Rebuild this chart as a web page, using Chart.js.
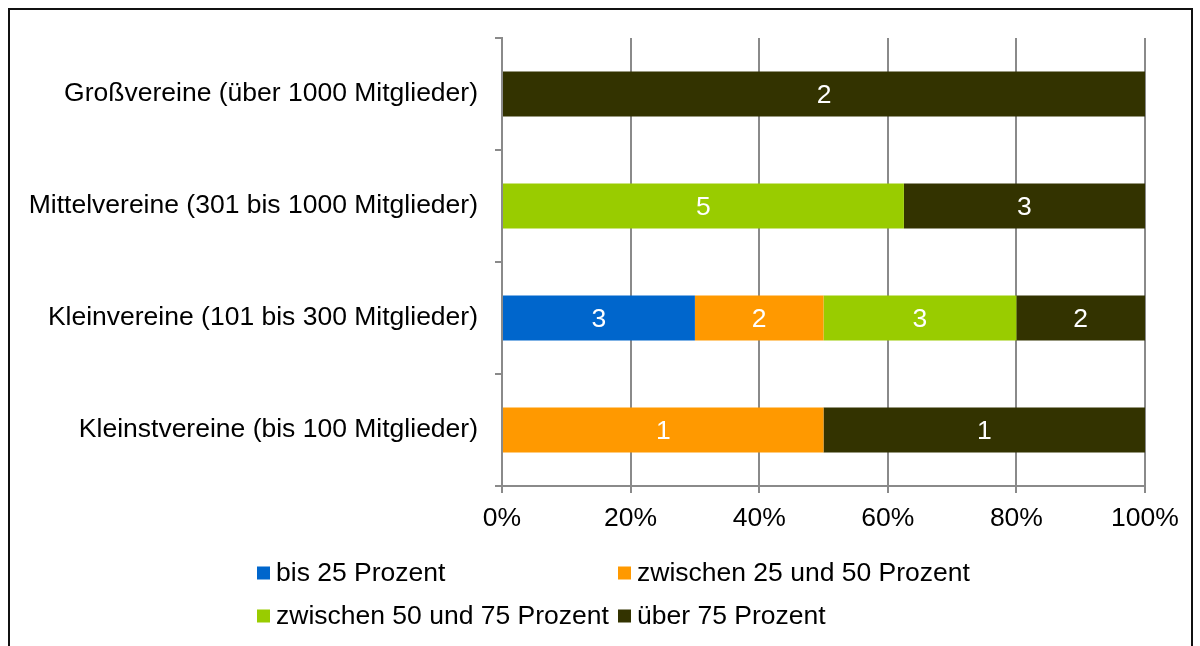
<!DOCTYPE html>
<html lang="de">

<head>
  <meta charset="UTF-8">
  <title>Vereine nach Anteil</title>
  <script src="https://cdn.jsdelivr.net/npm/chart.js"></script>
  <style>
    body {
      margin: 0;
      background: #fff;
      font-family: "Liberation Sans", Arial, sans-serif;
    }

    .wrap {
      position: relative;
      width: 1200px;
      height: 646px;
      overflow: hidden;
    }

    .frame {
      position: absolute;
      left: 8px;
      top: 8px;
      width: 1181px;
      height: 700px;
      border: 2px solid #111;
      pointer-events: none;
    }

    canvas {
      position: absolute;
      left: 0;
      top: 0;
    }
  </style>
</head>

<body>
  <div class="wrap">
    <canvas id="chart" width="1200" height="646"></canvas>
    <div class="frame"></div>
  </div>

  <script>
    const categories = [
      'Großvereine (über 1000 Mitglieder)',
      'Mittelvereine (301 bis 1000 Mitglieder)',
      'Kleinvereine (101 bis 300 Mitglieder)',
      'Kleinstvereine (bis 100 Mitglieder)'
    ];
    const seriesNames = [
      'bis 25 Prozent',
      'zwischen 25 und 50 Prozent',
      'zwischen 50 und 75 Prozent',
      'über 75 Prozent'
    ];
    // number of clubs per group and share class
    const bis25 = [0, 0, 3, 0];
    const zw25und50 = [0, 0, 2, 1];
    const zw50und75 = [0, 5, 3, 0];
    const ueber75 = [2, 3, 2, 1];
    const xTicks = [0, 20, 40, 60, 80, 100];

    const colors = ['#0066CC', '#FF9900', '#99CC00', '#333300'];
    const counts = [bis25, zw25und50, zw50und75, ueber75];
    const FONT = '"Liberation Sans", Arial, sans-serif';
    const FS = 26.5;
    const GRID = '#8a8a8a';

    // row totals, used to turn counts into 100% stacks
    const totals = categories.map((_, i) => counts.reduce((s, c) => s + c[i], 0));

    const datasets = seriesNames.map((name, k) => ({
      label: name,
      counts: counts[k],
      data: counts[k].map((v, i) => v / totals[i] * 100),
      backgroundColor: colors[k],
      borderWidth: 0,
      barPercentage: 0.4,
      categoryPercentage: 1
    }));

    const countLabels = {
      id: 'countLabels',
      afterDatasetsDraw(chart) {
        const ctx = chart.ctx;
        ctx.save();
        ctx.fillStyle = '#fff';
        ctx.font = FS + 'px ' + FONT;
        ctx.textAlign = 'center';
        ctx.textBaseline = 'middle';
        chart.data.datasets.forEach((ds, k) => {
          chart.getDatasetMeta(k).data.forEach((bar, i) => {
            if (!ds.counts[i]) return;
            ctx.fillText(String(ds.counts[i]), (bar.x + bar.base) / 2, bar.y + 2);
          });
        });
        ctx.restore();
      }
    };

    // two-column legend below the axis
    const gridLegend = {
      id: 'gridLegend',
      afterDraw(chart) {
        const ctx = chart.ctx;
        const cols = [257, 618];
        const rows = [573, 616];
        const box = 13;
        ctx.save();
        ctx.font = FS + 'px ' + FONT;
        ctx.textBaseline = 'middle';
        ctx.textAlign = 'left';
        chart.data.datasets.forEach((ds, k) => {
          const x = cols[k % 2];
          const y = rows[Math.floor(k / 2)];
          ctx.fillStyle = ds.backgroundColor;
          ctx.fillRect(x, y - box / 2, box, box);
          ctx.fillStyle = '#000';
          ctx.fillText(ds.label, x + 19, y + 1);
        });
        ctx.restore();
      }
    };

    new Chart(document.getElementById('chart'), {
      type: 'bar',
      data: { labels: categories, datasets: datasets },
      options: {
        indexAxis: 'y',
        responsive: false,
        animation: false,
        devicePixelRatio: 1,
        layout: { padding: { left: 0, top: 38, right: 55, bottom: 100 } },
        plugins: {
          legend: { display: false },
          tooltip: { enabled: false }
        },
        scales: {
          x: {
            stacked: true,
            min: 0,
            max: 100,
            afterBuildTicks: s => { s.ticks = xTicks.map(v => ({ value: v })); },
            afterFit: s => { s.height = 60; },
            grid: { color: GRID, lineWidth: 2, tickLength: 7, tickColor: GRID },
            border: { color: GRID, width: 2 },
            ticks: {
              color: '#000',
              padding: 10,
              maxRotation: 0,
              font: { family: FONT, size: FS },
              callback: v => v + '%'
            }
          },
          y: {
            stacked: true,
            afterFit: s => { s.width = 502; },
            grid: { drawOnChartArea: false, color: GRID, lineWidth: 2, tickLength: 7 },
            border: { color: GRID, width: 2 },
            ticks: {
              color: '#000',
              padding: 17,
              font: { family: FONT, size: FS }
            }
          }
        }
      },
      plugins: [countLabels, gridLegend]
    });
  </script>
</body>

</html>
